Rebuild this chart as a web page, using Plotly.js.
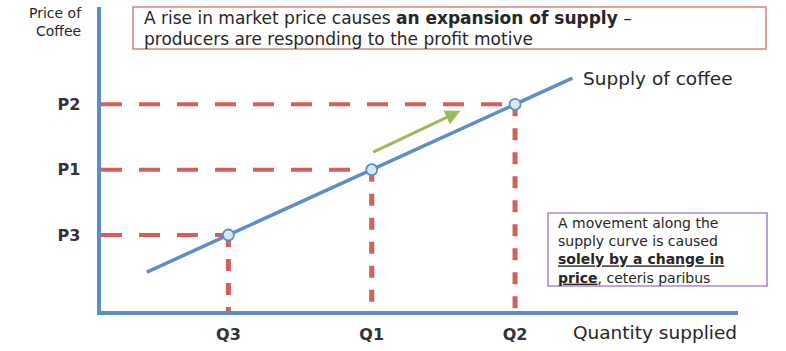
<!DOCTYPE html>
<html>
<head>
<meta charset="utf-8">
<script src="https://cdn.plot.ly/plotly-3.0.1.min.js"></script>
<style>html,body{margin:0;padding:0;background:#fff;}#chart{width:786px;height:351px;}</style>
</head>
<body>
<div id="chart"></div>
<script>
// ---- data ----
const priceLabels = ["P3", "P1", "P2"];
const priceValues = [25, 46.5, 68];
const quantityLabels = ["Q3", "Q1", "Q2"];
const quantityValues = [20, 42.5, 65];
const supplyQ = [7.2, 74];
const supplyP = [12.8, 76.6];
const arrowFrom = [42.5, 52];
const arrowTo = [56.4, 65.8];

// ---- style ----
const BLUE = "#5b8fca";
const RED = "#d2605b";
const GREEN = "#9bbb59";
const TXT = "#262626";
const FONT = "DejaVu Sans";
const W = 786, H = 351;
const X = px => px / W;
const Y = py => 1 - py / H;

const traces = [];
// dashed guides
priceValues.forEach((p, i) => {
  traces.push({x: [0, quantityValues[i]], y: [p, p], mode: "lines",
    line: {color: RED, width: 4, dash: "21px,17px"}, hoverinfo: "skip", showlegend: false});
  traces.push({x: [quantityValues[i], quantityValues[i]], y: [p, 0], mode: "lines",
    line: {color: RED, width: 5, dash: "12px,12px"}, hoverinfo: "skip", showlegend: false});
});
// supply curve
traces.push({x: supplyQ, y: supplyP, mode: "lines", line: {color: BLUE, width: 3.5},
  hoverinfo: "skip", showlegend: false});
// points
traces.push({x: quantityValues, y: priceValues, mode: "markers",
  marker: {size: 11, color: "#dde7f3", line: {color: BLUE, width: 1.8}},
  hoverinfo: "skip", showlegend: false});

const ann = (text, px, py, size, opts) => Object.assign({
  text, x: X(px), y: Y(py), xref: "paper", yref: "paper", showarrow: false,
  xanchor: "left", yanchor: "middle", font: {family: FONT, size: size, color: TXT}
}, opts || {});

const annotations = [
  // arrow
  {x: arrowTo[0], y: arrowTo[1], ax: arrowFrom[0], ay: arrowFrom[1], xref: "x", yref: "y",
   axref: "x", ayref: "y", text: "", showarrow: true, arrowhead: 2, arrowsize: 1,
   arrowwidth: 3, arrowcolor: GREEN, standoff: 0, startstandoff: 0},
  ann("Price of<br>Coffee", 84, 22, 14, {xanchor: "right", align: "right"}),
  ann("A rise in market price causes <b>an expansion of supply</b> –", 142, 18.5, 17),
  ann("producers are responding to the profit motive", 142, 39, 17),
  ann("Supply of coffee", 581, 79, 18.5),
  ann("Quantity supplied", 571, 332, 18.5),
  ann('A movement along the<br>supply curve is caused<br><b><span style="text-decoration:underline">solely by a change in</span></b><br><b><span style="text-decoration:underline">price</span></b>, ceteris paribus',
      556, 250, 14, {align: "left"})
];

const shapes = [
  {type: "rect", xref: "paper", yref: "paper", x0: X(133), x1: X(766), y0: Y(49), y1: Y(7),
   line: {color: "#d98582", width: 1.6}, fillcolor: "rgba(0,0,0,0)"},
  {type: "rect", xref: "paper", yref: "paper", x0: X(548), x1: X(767), y0: Y(286), y1: Y(213),
   line: {color: "#a98bcb", width: 1.6}, fillcolor: "rgba(0,0,0,0)"}
];

const layout = {
  width: W, height: H, autosize: false,
  margin: {l: 0, r: 0, t: 0, b: 0, pad: 0},
  paper_bgcolor: "#fff", plot_bgcolor: "#fff",
  showlegend: false,
  xaxis: {domain: [X(101), X(738)], range: [0, 100], showgrid: false, zeroline: false,
    showline: true, linecolor: BLUE, linewidth: 3.5,
    tickmode: "array", tickvals: quantityValues, ticktext: quantityLabels, ticks: "",
    ticklabelstandoff: 6,
    tickfont: {family: FONT, size: 16, color: "#333", weight: "bold"}, fixedrange: true},
  yaxis: {domain: [Y(311), Y(7)], range: [0, 100], showgrid: false, zeroline: false,
    showline: true, linecolor: BLUE, linewidth: 4.5,
    tickmode: "array", tickvals: priceValues, ticktext: priceLabels, ticks: "",
    ticklabelstandoff: 13,
    tickfont: {family: FONT, size: 16, color: "#333", weight: "bold"}, fixedrange: true},
  annotations, shapes
};

Plotly.newPlot("chart", traces, layout, {staticPlot: true, displayModeBar: false});
</script>
</body>
</html>
